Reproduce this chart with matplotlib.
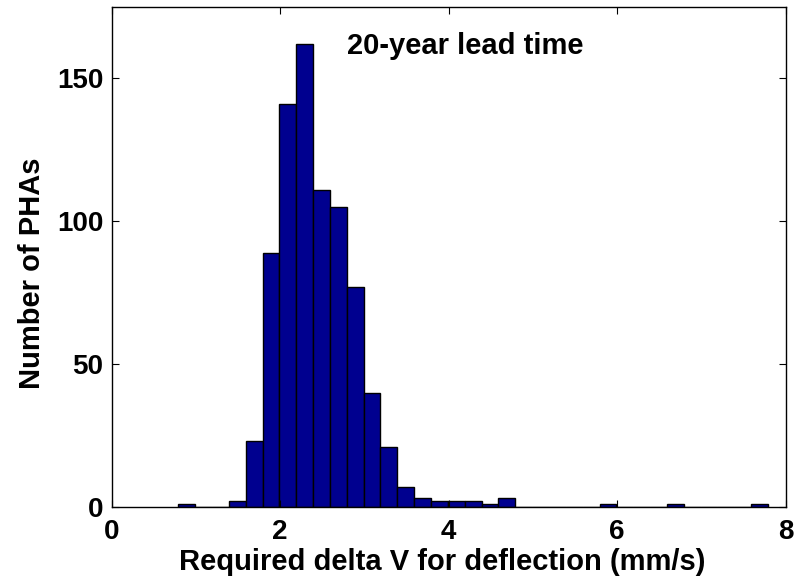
import numpy as np
import matplotlib
matplotlib.use("Agg")
import matplotlib.pyplot as plt

# bin edges of the histogram (mm/s) and counts per bin
BIN_START = 0.79
BIN_WIDTH = 0.2
counts = [1, 0, 0, 2, 23, 89, 141, 162, 111, 105, 77, 40, 21, 7, 3, 2, 2, 2,
          1, 3, 0, 0, 0, 0, 0, 1, 0, 0, 0, 1, 0, 0, 0, 0, 1]
x_ticks = [0, 2, 4, 6, 8]
y_ticks = [0, 50, 100, 150]

plt.rcParams['font.family'] = ['Liberation Sans', 'DejaVu Sans']
plt.rcParams['font.weight'] = 'bold'

fig = plt.figure(figsize=(7.98, 5.80), dpi=100)
ax = fig.add_axes([0.14, 0.126, 0.8446, 0.862])

lefts = BIN_START + BIN_WIDTH * np.arange(len(counts))
ax.bar(lefts, counts, width=BIN_WIDTH, align='edge', color='#00008F',
       edgecolor='black', linewidth=1.0)

ax.set_xlim(0, 8)
ax.set_ylim(0, 175)
ax.set_xticks(x_ticks)
ax.set_yticks(y_ticks)
ax.tick_params(direction='in', top=True, right=True, length=5, width=0.8,
               labelsize=20)
ax.tick_params(axis='x', pad=9)
ax.tick_params(axis='y', pad=6)
for lbl in ax.get_xticklabels() + ax.get_yticklabels():
    lbl.set_fontweight('bold')
for s in ax.spines.values():
    s.set_linewidth(1.0)

ax.set_xlabel('Required delta V for deflection (mm/s)', fontsize=21,
              fontweight='bold')
ax.xaxis.set_label_coords(0.49, -0.083)
ax.set_ylabel('Number of PHAs', fontsize=21, fontweight='bold')
ax.yaxis.set_label_coords(-0.098, 0.468)
ax.text(4.2, 158.6, '20-year lead time', fontsize=21, fontweight='bold',
        ha='center', va='baseline')

fig.savefig('out.png', dpi=100)
